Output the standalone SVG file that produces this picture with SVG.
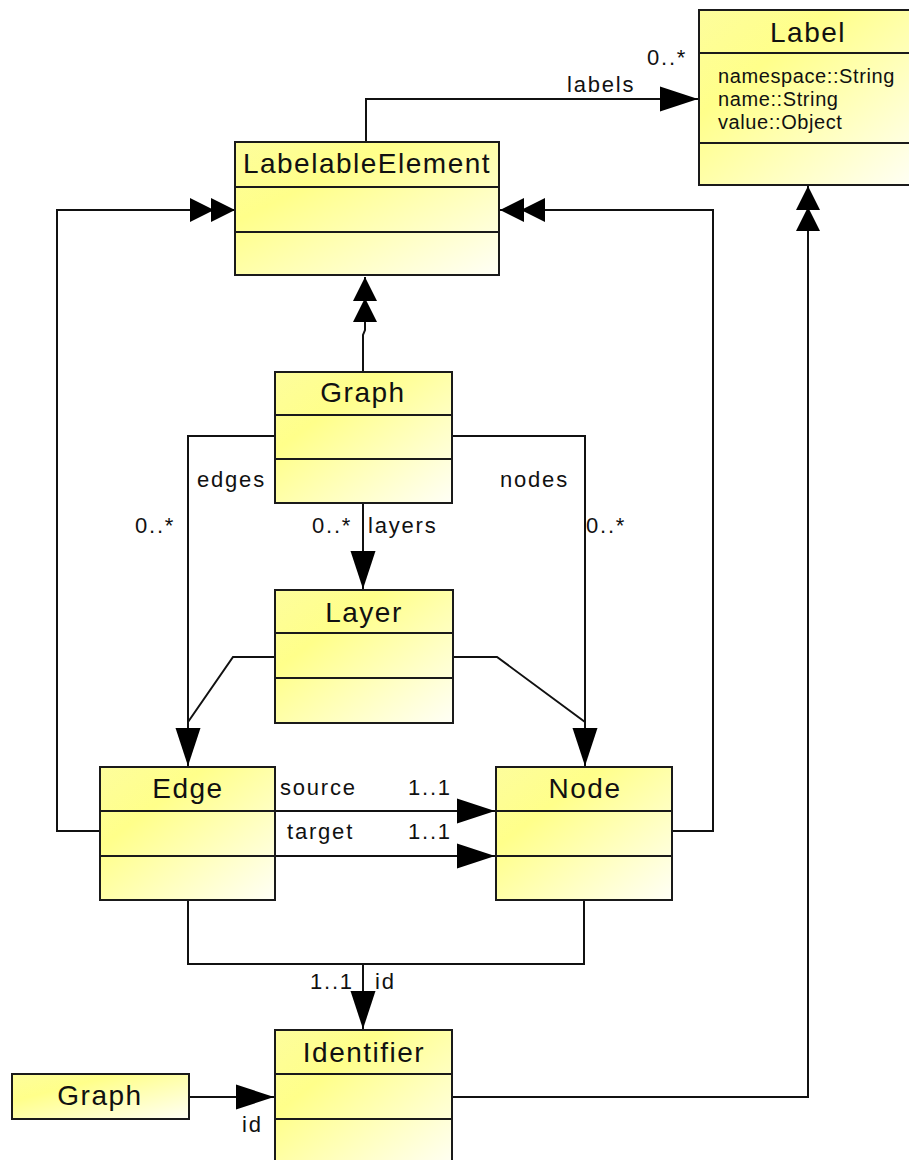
<svg xmlns="http://www.w3.org/2000/svg" width="909" height="1160" viewBox="0 0 909 1160">
<style>
.box{stroke:#1a1a1a;stroke-width:2;fill:url(#yg)}
.div{stroke:#1a1a1a;stroke-width:2}
.title{font-family:"Liberation Sans",Arial,sans-serif;font-size:28px;letter-spacing:1.5px;fill:#111;text-anchor:middle}
.lbl{font-family:"Liberation Sans",Arial,sans-serif;font-size:22px;letter-spacing:1.8px;fill:#111}
.attr{font-family:"Liberation Sans",Arial,sans-serif;font-size:20px;letter-spacing:0.6px;fill:#111}
.con{fill:none;stroke:#111;stroke-width:2}
.arr{marker-end:url(#a1)}
.gen{marker-end:url(#a2)}
</style>
<defs>
<linearGradient id="yg" x1="0" y1="0" x2="1" y2="1">
<stop offset="0" stop-color="#fdfd9c"/>
<stop offset="0.3" stop-color="#ffff8a"/>
<stop offset="1" stop-color="#fffff6"/>
</linearGradient>
<marker id="a1" markerUnits="userSpaceOnUse" markerWidth="40" markerHeight="26" refX="38" refY="12.5" orient="auto" overflow="visible">
<path d="M0,0 L38,12.5 L0,25 z" fill="#000"/>
</marker>
<marker id="a2" markerUnits="userSpaceOnUse" markerWidth="46" markerHeight="26" refX="45" refY="12" orient="auto" overflow="visible">
<path d="M0,0 L24,12 L0,24 z M21,0 L45,12 L21,24 z" fill="#000"/>
</marker>
</defs>
<rect width="909" height="1160" fill="#fff"/>

<g id="connectors">
<path class="con arr" d="M366,142 V99 H698"/>
<path class="con gen" d="M100,831 H57 V210 H235"/>
<path class="con gen" d="M672,831 H713 V210 H500"/>
<path class="con gen" d="M363,372 V335 L365,330 V277"/>
<path class="con arr" d="M275,436 H188 V766"/>
<path class="con arr" d="M452,436 H585 V766"/>
<path class="con arr" d="M363,503 V589"/>
<path class="con" d="M275,657 H233 L188,722"/>
<path class="con" d="M453,657 H497 L585,722"/>
<path class="con arr" d="M275,811 H495"/>
<path class="con arr" d="M275,856 H495"/>
<path class="con" d="M188,900 V964 H584 V900"/>
<path class="con arr" d="M363,964 V1029"/>
<path class="con arr" d="M189,1097 H274"/>
<path class="con gen" d="M452,1097 H808 V186"/>
</g>

<g id="edge-labels">
<text class="lbl" x="567" y="92">labels</text>
<text class="lbl" x="647" y="65">0..*</text>
<text class="lbl" x="197" y="487">edges</text>
<text class="lbl" x="135" y="533">0..*</text>
<text class="lbl" x="500" y="487">nodes</text>
<text class="lbl" x="586" y="533">0..*</text>
<text class="lbl" x="312" y="533">0..*</text>
<text class="lbl" x="368" y="533">layers</text>
<text class="lbl" x="280" y="795">source</text>
<text class="lbl" x="408" y="795">1..1</text>
<text class="lbl" x="287" y="839">target</text>
<text class="lbl" x="408" y="839">1..1</text>
<text class="lbl" x="310" y="989">1..1</text>
<text class="lbl" x="375" y="989">id</text>
<text class="lbl" x="242" y="1132">id</text>
</g>

<g id="Label">
<rect class="box" x="699" y="10" width="218" height="175"/>
<line class="div" x1="699" y1="53" x2="917" y2="53"/>
<line class="div" x1="699" y1="143" x2="917" y2="143"/>
<text class="title" x="808" y="42">Label</text>
<text class="attr" x="718" y="83">namespace::String</text>
<text class="attr" x="718" y="106">name::String</text>
<text class="attr" x="718" y="129">value::Object</text>
</g>

<g id="LabelableElement">
<rect class="box" x="235" y="142" width="264" height="133"/>
<line class="div" x1="235" y1="187" x2="499" y2="187"/>
<line class="div" x1="235" y1="232" x2="499" y2="232"/>
<text class="title" x="367" y="173">LabelableElement</text>
</g>

<g id="Graph">
<rect class="box" x="275" y="372" width="177" height="131"/>
<line class="div" x1="275" y1="415" x2="452" y2="415"/>
<line class="div" x1="275" y1="459" x2="452" y2="459"/>
<text class="title" x="363" y="402">Graph</text>
</g>

<g id="Layer">
<rect class="box" x="275" y="590" width="178" height="133"/>
<line class="div" x1="275" y1="633" x2="453" y2="633"/>
<line class="div" x1="275" y1="678" x2="453" y2="678"/>
<text class="title" x="364" y="622">Layer</text>
</g>

<g id="Edge">
<rect class="box" x="100" y="767" width="175" height="133"/>
<line class="div" x1="100" y1="811" x2="275" y2="811"/>
<line class="div" x1="100" y1="856" x2="275" y2="856"/>
<text class="title" x="188" y="798">Edge</text>
</g>

<g id="Node">
<rect class="box" x="496" y="767" width="176" height="133"/>
<line class="div" x1="496" y1="811" x2="672" y2="811"/>
<line class="div" x1="496" y1="856" x2="672" y2="856"/>
<text class="title" x="585" y="798">Node</text>
</g>

<g id="Identifier">
<rect class="box" x="275" y="1030" width="177" height="140"/>
<line class="div" x1="275" y1="1074" x2="452" y2="1074"/>
<line class="div" x1="275" y1="1119" x2="452" y2="1119"/>
<text class="title" x="364" y="1062">Identifier</text>
</g>

<g id="GraphRef">
<rect class="box" x="12" y="1074" width="177" height="45"/>
<text class="title" x="100" y="1105">Graph</text>
</g>
</svg>
